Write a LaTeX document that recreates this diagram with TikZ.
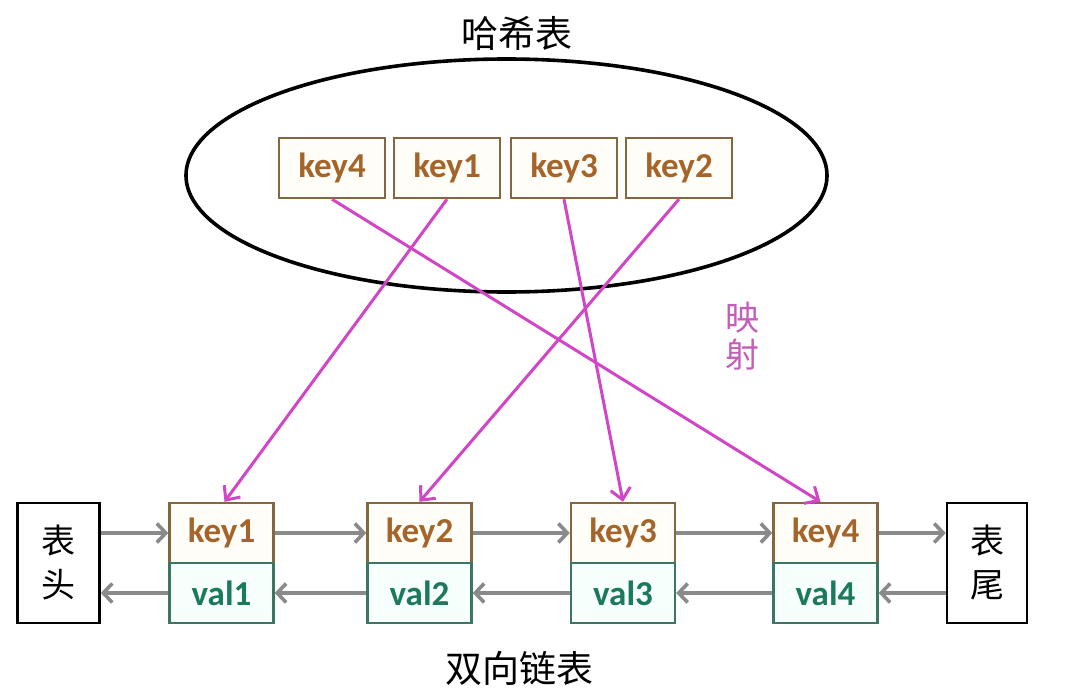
\documentclass[tikz,border=0pt]{standalone}
\usepackage{fontspec}
\setmainfont{Carlito}
\newfontfamily\cjk{Noto Sans CJK SC}
\usetikzlibrary{arrows.meta,shapes.geometric}
\definecolor{keytxt}{HTML}{A5652A}
\definecolor{keybd}{HTML}{85673F}
\definecolor{keyfill}{HTML}{FFFDF7}
\definecolor{valtxt}{HTML}{1C7A5C}
\definecolor{valbd}{HTML}{3A7565}
\definecolor{valfill}{HTML}{F6FFFB}
\definecolor{grayarr}{HTML}{8A8A8A}
\definecolor{maparr}{HTML}{D146C6}
\definecolor{maptxt}{HTML}{C65CBA}
\begin{document}
\begin{tikzpicture}[x=1pt,y=-1pt,
  keybox/.style={draw=keybd,fill=keyfill,line width=2.4pt,minimum width=106pt,minimum height=60pt,inner sep=0pt,text=keytxt,font=\bfseries\fontsize{35}{40}\selectfont},
  cellkey/.style={keybox,minimum width=104pt},
  cellval/.style={draw=valbd,fill=valfill,line width=2.4pt,minimum width=104pt,minimum height=60pt,inner sep=0pt,text=valtxt,font=\bfseries\fontsize{35}{40}\selectfont},
  endbox/.style={draw=black,fill=white,line width=2.6pt,minimum width=82pt,minimum height=120pt,inner sep=0pt,align=center,font=\cjk\fontsize{34}{44}\selectfont},
  title/.style={font=\cjk\fontsize{37}{40}\selectfont,inner sep=0pt},
  linkarr/.style={draw=grayarr,line width=3.6pt,-{Straight Barb[length=9pt,width=19pt]}},
  maparrow/.style={draw=maparr,line width=3pt,-{Straight Barb[length=11pt,width=20pt]}}
]
\useasboundingbox (0,0) rectangle (1080,690);
\fill[white] (0,0) rectangle (1080,690);

\node[title] (t1) at (517,33) {哈希表};
\node[title] (t2) at (519,668) {双向链表};

\node[draw,ellipse,line width=3.6pt,minimum width=641pt,minimum height=233pt] (ht) at (506.5,175.5) {};

\node[keybox] (a4) at (332,168) {key4};
\node[keybox] (a1) at (447,168) {key1};
\node[keybox] (a3) at (564,168) {key3};
\node[keybox] (a2) at (679,168) {key2};

\node[endbox] (head) at (58.5,563) {表\\头};
\node[endbox,minimum width=80pt] (tail) at (987,563) {表\\尾};

\node[cellkey] (k1) at (221.5,533) {key1};
\node[cellval] (v1) at (221.5,593) {val1};
\node[cellkey] (k2) at (419.5,533) {key2};
\node[cellval] (v2) at (419.5,593) {val2};
\node[cellkey] (k3) at (623,533) {key3};
\node[cellval] (v3) at (623,593) {val3};
\node[cellkey] (k4) at (825.5,533) {key4};
\node[cellval] (v4) at (825.5,593) {val4};

\node[font=\cjk\fontsize{34}{37}\selectfont,text=maptxt,align=center,inner sep=0pt] (map) at (742,336) {映\\射};

% forward links
\draw[linkarr] (head.east |- k1.west) -- (k1.west);
\draw[linkarr] (k1.east) -- (k2.west);
\draw[linkarr] (k2.east) -- (k3.west);
\draw[linkarr] (k3.east) -- (k4.west);
\draw[linkarr] (k4.east) -- (tail.west |- k4.east);
% backward links
\draw[linkarr] (tail.west |- v4.east) -- (v4.east);
\draw[linkarr] (v4.west) -- (v3.east);
\draw[linkarr] (v3.west) -- (v2.east);
\draw[linkarr] (v2.west) -- (v1.east);
\draw[linkarr] (v1.west) -- (head.east |- v1.west);

% mapping
\draw[maparrow] (a4.south) -- ([xshift=-5pt]k4.north);
\draw[maparrow] (a1.south) -- ([xshift=3pt]k1.north);
\draw[maparrow] (a3.south) -- (k3.north);
\draw[maparrow] (a2.south) -- (k2.north);
\end{tikzpicture}
\end{document}
